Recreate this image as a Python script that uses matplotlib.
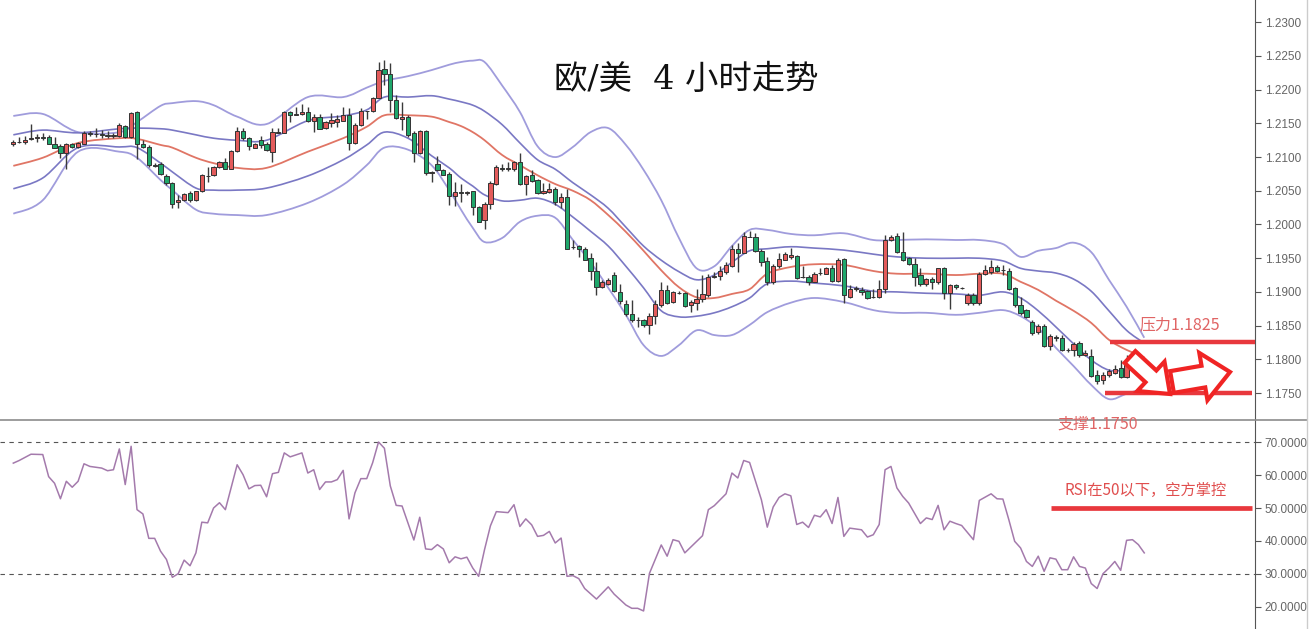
import numpy as np
import matplotlib.pyplot as plt
from matplotlib.patches import FancyArrow, PathPatch
from matplotlib.path import Path

plt.rcParams['font.family'] = ['Noto Sans CJK SC', 'DejaVu Sans']

# EUR/USD 4h candles, oldest first
opens = [1.2120, 1.2123, 1.2122, 1.2127, 1.2129, 1.2130, 1.2130, 1.2120, 1.2116, 1.2106,
         1.2119, 1.2115, 1.2120, 1.2135, 1.2134, 1.2134, 1.2133, 1.2132, 1.2132, 1.2146,
         1.2130, 1.2167, 1.2119, 1.2115, 1.2088, 1.2090, 1.2072, 1.2062, 1.2034, 1.2036,
         1.2046, 1.2036, 1.2049, 1.2072, 1.2073, 1.2085, 1.2092, 1.2083, 1.2109, 1.2139,
         1.2128, 1.2114, 1.2125, 1.2120, 1.2108, 1.2136, 1.2136, 1.2167, 1.2163, 1.2164,
         1.2167, 1.2153, 1.2159, 1.2143, 1.2151, 1.2152, 1.2154, 1.2163, 1.2121, 1.2147,
         1.2168, 1.2168, 1.2188, 1.2230, 1.2223, 1.2184, 1.2157, 1.2159, 1.2135, 1.2106,
         1.2138, 1.2077, 1.2090, 1.2081, 1.2075, 1.2043, 1.2048, 1.2047, 1.2049, 1.2026,
         1.2006, 1.2031, 1.2060, 1.2084, 1.2083, 1.2082, 1.2093, 1.2060, 1.2073, 1.2066,
         1.2046, 1.2048, 1.2052, 1.2034, 1.2041, 1.1966, 1.1968, 1.1964, 1.1951, 1.1931,
         1.1907, 1.1911, 1.1925, 1.1900, 1.1882, 1.1867, 1.1858, 1.1858, 1.1851, 1.1864,
         1.1880, 1.1903, 1.1885, 1.1899, 1.1898, 1.1880, 1.1883, 1.1889, 1.1895, 1.1922,
         1.1923, 1.1930, 1.1938, 1.1964, 1.1958, 1.1982, 1.1981, 1.1961, 1.1946, 1.1915,
         1.1938, 1.1948, 1.1952, 1.1954, 1.1922, 1.1922, 1.1915, 1.1928, 1.1927, 1.1936,
         1.1916, 1.1949, 1.1893, 1.1905, 1.1903, 1.1901, 1.1892, 1.1893, 1.1904, 1.1977,
         1.1983, 1.1959, 1.1950, 1.1941, 1.1925, 1.1911, 1.1919, 1.1914, 1.1936, 1.1899,
         1.1910, 1.1906, 1.1883, 1.1895, 1.1883, 1.1927, 1.1930, 1.1937, 1.1932, 1.1931,
         1.1906, 1.1880, 1.1873, 1.1855, 1.1840, 1.1850, 1.1820, 1.1833, 1.1831, 1.1814,
         1.1814, 1.1824, 1.1806, 1.1805, 1.1777, 1.1769, 1.1777, 1.1780, 1.1787, 1.1774,
         1.1797, 1.1797, 1.1786]
highs = [1.2126, 1.2130, 1.2131, 1.2149, 1.2134, 1.2135, 1.2133, 1.2130, 1.2120, 1.2121,
         1.2121, 1.2123, 1.2138, 1.2138, 1.2143, 1.2140, 1.2138, 1.2135, 1.2150, 1.2148,
         1.2167, 1.2169, 1.2125, 1.2118, 1.2091, 1.2093, 1.2075, 1.2063, 1.2044, 1.2046,
         1.2049, 1.2050, 1.2075, 1.2086, 1.2087, 1.2094, 1.2098, 1.2110, 1.2145, 1.2143,
         1.2130, 1.2121, 1.2131, 1.2123, 1.2143, 1.2143, 1.2168, 1.2169, 1.2174, 1.2179,
         1.2174, 1.2164, 1.2164, 1.2153, 1.2166, 1.2162, 1.2174, 1.2173, 1.2150, 1.2173,
         1.2169, 1.2189, 1.2241, 1.2244, 1.2239, 1.2192, 1.2182, 1.2162, 1.2138, 1.2140,
         1.2140, 1.2080, 1.2102, 1.2083, 1.2078, 1.2063, 1.2060, 1.2050, 1.2050, 1.2028,
         1.2033, 1.2064, 1.2088, 1.2090, 1.2093, 1.2094, 1.2106, 1.2074, 1.2081, 1.2068,
         1.2062, 1.2061, 1.2056, 1.2046, 1.2053, 1.1977, 1.1969, 1.1967, 1.1957, 1.1945,
         1.1917, 1.1921, 1.1930, 1.1912, 1.1888, 1.1888, 1.1863, 1.1860, 1.1868, 1.1888,
         1.1915, 1.1910, 1.1902, 1.1902, 1.1900, 1.1888, 1.1905, 1.1925, 1.1927, 1.1930,
         1.1938, 1.1945, 1.1969, 1.1972, 1.1989, 1.1991, 1.1987, 1.1964, 1.1952, 1.1942,
         1.1957, 1.1959, 1.1965, 1.1955, 1.1939, 1.1925, 1.1930, 1.1935, 1.1937, 1.1940,
         1.1951, 1.1950, 1.1910, 1.1909, 1.1907, 1.1903, 1.1904, 1.1917, 1.1984, 1.1985,
         1.1987, 1.1989, 1.1952, 1.1950, 1.1936, 1.1921, 1.1922, 1.1936, 1.1937, 1.1912,
         1.1912, 1.1908, 1.1898, 1.1898, 1.1930, 1.1940, 1.1947, 1.1940, 1.1940, 1.1935,
         1.1907, 1.1893, 1.1875, 1.1858, 1.1853, 1.1852, 1.1838, 1.1836, 1.1836, 1.1817,
         1.1826, 1.1827, 1.1814, 1.1815, 1.1784, 1.1781, 1.1786, 1.1791, 1.1799, 1.1806,
         1.1801, 1.1800, 1.1789]
lows = [1.2116, 1.2121, 1.2120, 1.2126, 1.2123, 1.2125, 1.2119, 1.2113, 1.2098, 1.2082,
        1.2114, 1.2114, 1.2119, 1.2131, 1.2130, 1.2129, 1.2128, 1.2129, 1.2130, 1.2129,
        1.2129, 1.2097, 1.2113, 1.2086, 1.2085, 1.2073, 1.2058, 1.2025, 1.2025, 1.2035,
        1.2034, 1.2035, 1.2048, 1.2063, 1.2072, 1.2084, 1.2082, 1.2082, 1.2108, 1.2126,
        1.2110, 1.2113, 1.2114, 1.2109, 1.2092, 1.2135, 1.2135, 1.2152, 1.2162, 1.2162,
        1.2152, 1.2137, 1.2141, 1.2142, 1.2145, 1.2145, 1.2153, 1.2110, 1.2120, 1.2146,
        1.2157, 1.2167, 1.2187, 1.2207, 1.2167, 1.2157, 1.2140, 1.2130, 1.2093, 1.2105,
        1.2073, 1.2063, 1.2080, 1.2073, 1.2029, 1.2028, 1.2033, 1.2044, 1.2014, 1.2003,
        1.1994, 1.2023, 1.2059, 1.2080, 1.2080, 1.2080, 1.2058, 1.2044, 1.2063, 1.2045,
        1.2045, 1.2046, 1.2029, 1.2024, 1.1963, 1.1963, 1.1952, 1.1947, 1.1917, 1.1895,
        1.1906, 1.1910, 1.1900, 1.1882, 1.1865, 1.1855, 1.1848, 1.1848, 1.1837, 1.1853,
        1.1878, 1.1882, 1.1884, 1.1897, 1.1878, 1.1870, 1.1873, 1.1885, 1.1893, 1.1921,
        1.1917, 1.1927, 1.1937, 1.1930, 1.1957, 1.1981, 1.1959, 1.1938, 1.1910, 1.1912,
        1.1935, 1.1947, 1.1949, 1.1919, 1.1920, 1.1910, 1.1914, 1.1925, 1.1926, 1.1915,
        1.1915, 1.1883, 1.1891, 1.1901, 1.1895, 1.1889, 1.1891, 1.1891, 1.1898, 1.1975,
        1.1957, 1.1946, 1.1940, 1.1909, 1.1909, 1.1909, 1.1904, 1.1912, 1.1890, 1.1875,
        1.1905, 1.1905, 1.1880, 1.1880, 1.1881, 1.1925, 1.1927, 1.1929, 1.1925, 1.1903,
        1.1878, 1.1866, 1.1862, 1.1836, 1.1838, 1.1819, 1.1814, 1.1827, 1.1812, 1.1811,
        1.1805, 1.1804, 1.1805, 1.1774, 1.1764, 1.1764, 1.1774, 1.1778, 1.1773, 1.1773,
        1.1794, 1.1791, 1.1780]
closes = [1.2123, 1.2122, 1.2125, 1.2129, 1.2130, 1.2129, 1.2120, 1.2114, 1.2106, 1.2119,
          1.2115, 1.2121, 1.2135, 1.2134, 1.2134, 1.2133, 1.2132, 1.2132, 1.2148, 1.2130,
          1.2166, 1.2120, 1.2115, 1.2088, 1.2087, 1.2075, 1.2061, 1.2031, 1.2036, 1.2045,
          1.2036, 1.2049, 1.2073, 1.2072, 1.2086, 1.2093, 1.2083, 1.2109, 1.2138, 1.2129,
          1.2116, 1.2119, 1.2118, 1.2110, 1.2137, 1.2137, 1.2167, 1.2163, 1.2164, 1.2167,
          1.2153, 1.2159, 1.2142, 1.2152, 1.2155, 1.2156, 1.2163, 1.2121, 1.2147, 1.2169,
          1.2169, 1.2188, 1.2229, 1.2223, 1.2184, 1.2158, 1.2160, 1.2133, 1.2106, 1.2138,
          1.2077, 1.2078, 1.2081, 1.2074, 1.2043, 1.2048, 1.2046, 1.2048, 1.2026, 1.2004,
          1.2031, 1.2062, 1.2085, 1.2083, 1.2083, 1.2093, 1.2060, 1.2072, 1.2065, 1.2046,
          1.2050, 1.2052, 1.2034, 1.2041, 1.1964, 1.1967, 1.1963, 1.1948, 1.1931, 1.1907,
          1.1915, 1.1918, 1.1901, 1.1887, 1.1867, 1.1858, 1.1858, 1.1851, 1.1864, 1.1882,
          1.1903, 1.1884, 1.1900, 1.1898, 1.1879, 1.1885, 1.1890, 1.1897, 1.1922, 1.1923,
          1.1931, 1.1940, 1.1964, 1.1958, 1.1983, 1.1981, 1.1961, 1.1945, 1.1915, 1.1938,
          1.1949, 1.1956, 1.1955, 1.1920, 1.1922, 1.1914, 1.1927, 1.1928, 1.1935, 1.1916,
          1.1947, 1.1895, 1.1905, 1.1905, 1.1900, 1.1891, 1.1893, 1.1905, 1.1977, 1.1982,
          1.1959, 1.1947, 1.1941, 1.1922, 1.1911, 1.1919, 1.1915, 1.1935, 1.1898, 1.1910,
          1.1907, 1.1906, 1.1895, 1.1884, 1.1927, 1.1932, 1.1937, 1.1931, 1.1932, 1.1905,
          1.1880, 1.1869, 1.1863, 1.1839, 1.1849, 1.1820, 1.1834, 1.1832, 1.1814, 1.1814,
          1.1822, 1.1806, 1.1809, 1.1776, 1.1768, 1.1777, 1.1782, 1.1786, 1.1774, 1.1797,
          1.1797, 1.1792, 1.1781]

# band readings at these candles
band_idx = [0, 5, 11, 18, 21, 25, 27, 31, 34, 38, 43, 50, 56, 60, 63, 67, 71, 74, 76, 78,
            80, 83, 86, 89, 92, 95, 98, 101, 104, 107, 110, 113, 116, 119, 122, 125, 128, 132, 136, 141,
            146, 150, 155, 160, 164, 168, 171, 174, 177, 180, 183, 186, 189, 192]
upper_outer = [1.2161, 1.2164, 1.2137, 1.2137, 1.2152, 1.2176, 1.2180, 1.2183, 1.2177, 1.2160,
               1.2149, 1.2189, 1.2189, 1.2203, 1.2213, 1.2220, 1.2229, 1.2237, 1.2241, 1.2243,
               1.2241, 1.2206, 1.2167, 1.2116, 1.2100, 1.2115, 1.2137, 1.2143, 1.2118, 1.2081,
               1.2036, 1.1980, 1.1935, 1.1938, 1.1968, 1.1992, 1.1992, 1.1986, 1.1984, 1.1987,
               1.1977, 1.1977, 1.1978, 1.1977, 1.1977, 1.1971, 1.1952, 1.1961, 1.1965, 1.1973,
               1.1959, 1.1918, 1.1878, 1.1832]
upper_inner = [1.2133, 1.2140, 1.2136, 1.2142, 1.2143, 1.2142, 1.2140, 1.2133, 1.2128, 1.2125,
               1.2125, 1.2154, 1.2161, 1.2170, 1.2189, 1.2189, 1.2191, 1.2186, 1.2182, 1.2177,
               1.2168, 1.2148, 1.2121, 1.2096, 1.2082, 1.2062, 1.2044, 1.2024, 1.1996, 1.1968,
               1.1947, 1.1930, 1.1918, 1.1925, 1.1944, 1.1961, 1.1964, 1.1967, 1.1965, 1.1962,
               1.1956, 1.1952, 1.1950, 1.1950, 1.1950, 1.1946, 1.1935, 1.1931, 1.1928, 1.1919,
               1.1901, 1.1872, 1.1843, 1.1824]
middle = [1.2087, 1.2099, 1.2121, 1.2128, 1.2127, 1.2118, 1.2114, 1.2099, 1.2091, 1.2084,
          1.2084, 1.2108, 1.2128, 1.2145, 1.2162, 1.2162, 1.2160, 1.2152, 1.2146, 1.2137,
          1.2125, 1.2103, 1.2088, 1.2073, 1.2060, 1.2050, 1.2036, 1.2014, 1.1989, 1.1961,
          1.1932, 1.1907, 1.1892, 1.1891, 1.1897, 1.1904, 1.1927, 1.1937, 1.1941, 1.1940,
          1.1931, 1.1927, 1.1927, 1.1925, 1.1927, 1.1927, 1.1915, 1.1903, 1.1887, 1.1872,
          1.1854, 1.1829, 1.1814, 1.1803]
lower_inner = [1.2053, 1.2069, 1.2114, 1.2115, 1.2114, 1.2091, 1.2078, 1.2054, 1.2051, 1.2051,
               1.2054, 1.2072, 1.2096, 1.2118, 1.2137, 1.2128, 1.2102, 1.2084, 1.2069, 1.2057,
               1.2044, 1.2035, 1.2036, 1.2039, 1.2030, 1.2011, 1.1990, 1.1968, 1.1938, 1.1906,
               1.1872, 1.1863, 1.1864, 1.1869, 1.1878, 1.1891, 1.1912, 1.1916, 1.1913, 1.1909,
               1.1901, 1.1900, 1.1898, 1.1897, 1.1895, 1.1900, 1.1891, 1.1872, 1.1848, 1.1823,
               1.1799, 1.1784, 1.1784, 1.1787]
lower_outer = [1.2016, 1.2036, 1.2108, 1.2108, 1.2099, 1.2066, 1.2051, 1.2022, 1.2016, 1.2014,
               1.2014, 1.2032, 1.2059, 1.2088, 1.2114, 1.2111, 1.2088, 1.2051, 1.2022, 1.1995,
               1.1974, 1.1980, 1.2004, 1.2013, 1.2010, 1.1977, 1.1944, 1.1906, 1.1866, 1.1821,
               1.1805, 1.1821, 1.1843, 1.1836, 1.1836, 1.1851, 1.1870, 1.1884, 1.1891, 1.1885,
               1.1873, 1.1869, 1.1869, 1.1866, 1.1869, 1.1873, 1.1864, 1.1846, 1.1817, 1.1790,
               1.1762, 1.1741, 1.1749, 1.1757]

rsi_idx = [0, 1, 3, 5, 6, 7, 8, 9, 10, 11,
           12, 13, 15, 16, 17, 18, 19, 20, 21, 22,
           23, 24, 25, 26, 27, 28, 29, 30, 31, 32,
           33, 34, 35, 36, 38, 39, 40, 41, 42, 43,
           44, 45, 46, 47, 49, 50, 51, 52, 53, 54,
           55, 56, 57, 58, 59, 60, 61, 62, 63, 64,
           65, 66, 67, 68, 69, 70, 71, 72, 73, 74,
           75, 76, 77, 78, 79, 80, 81, 82, 84, 85,
           86, 87, 88, 89, 90, 91, 92, 93, 94, 95,
           96, 97, 99, 101, 102, 104, 105, 106, 107, 108,
           110, 111, 112, 113, 114, 117, 118, 119, 121, 122,
           123, 124, 125, 127, 128, 129, 130, 131, 132, 133,
           134, 135, 136, 137, 138, 139, 140, 141, 142, 144,
           145, 146, 147, 148, 149, 150, 151, 152, 154, 155,
           156, 157, 158, 159, 160, 161, 163, 164, 166, 167,
           168, 169, 170, 171, 172, 173, 174, 175, 176, 177,
           178, 179, 180, 181, 182, 183, 184, 185, 186, 187,
           188, 189, 190, 191, 192]
rsi_val = [63.6, 64.4, 66.3, 66.2, 59.5, 57.5, 52.8, 58.1, 56.3, 58.1,
           63.4, 62.6, 62.1, 61.3, 61.6, 67.9, 57.1, 68.7, 49.5, 48.2,
           40.8, 40.8, 36.9, 34.4, 29.0, 30.1, 34.2, 32.5, 36.4, 45.7,
           45.5, 50.0, 51.6, 49.5, 63.1, 60.1, 55.8, 56.8, 56.9, 53.4,
           60.4, 60.8, 66.7, 65.5, 66.7, 60.6, 61.6, 55.6, 57.9, 57.9,
           58.6, 61.4, 46.7, 54.6, 58.9, 58.9, 63.7, 70.0, 68.1, 56.7,
           50.8, 50.6, 45.5, 40.3, 47.2, 37.6, 37.4, 38.9, 37.6, 33.4,
           35.2, 34.6, 35.1, 31.8, 29.3, 37.4, 44.6, 48.9, 48.6, 51.0,
           44.4, 46.7, 44.9, 41.4, 41.7, 42.9, 39.4, 40.9, 29.3, 29.5,
           28.6, 25.6, 22.4, 26.1, 23.9, 20.6, 19.6, 19.6, 18.8, 30.2,
           38.8, 35.4, 40.4, 39.9, 36.4, 41.6, 49.5, 50.7, 54.3, 60.6,
           59.1, 64.4, 63.8, 52.5, 44.2, 50.3, 53.2, 54.3, 53.7, 45.0,
           45.7, 44.1, 47.8, 47.3, 49.5, 45.3, 53.2, 41.4, 43.9, 43.4,
           41.2, 41.9, 45.0, 61.6, 62.6, 56.1, 53.5, 51.5, 45.3, 47.0,
           46.5, 50.8, 43.4, 46.0, 45.3, 44.7, 40.4, 52.3, 54.3, 52.8,
           52.7, 46.5, 39.9, 37.9, 33.8, 32.3, 35.4, 30.8, 34.9, 34.5,
           31.3, 31.3, 35.2, 32.3, 31.8, 27.1, 25.6, 30.1, 31.8, 33.8,
           31.1, 40.2, 40.4, 38.9, 36.4]

price_ticks = [1.1750, 1.1800, 1.1850, 1.1900, 1.1950, 1.2000, 1.2050,
               1.2100, 1.2150, 1.2200, 1.2250, 1.2300]
rsi_ticks = [20, 30, 40, 50, 60, 70]
resistance = 1.1825
support = 1.1750
rsi_mid = 50


def smooth_path(xs, ys):
    # draw the band through its readings as a smooth Catmull-Rom curve (bezier segments)
    p = np.column_stack([xs, ys]).astype(float)
    ext = np.vstack([p[0], p, p[-1]])
    verts, codes = [p[0]], [Path.MOVETO]
    for k in range(len(p) - 1):
        p0, p1, p2, p3 = ext[k], ext[k + 1], ext[k + 2], ext[k + 3]
        verts += [p1 + (p2 - p0) / 6, p2 - (p3 - p1) / 6, p2]
        codes += [Path.CURVE4] * 3
    return Path(verts, codes)


W, H = 1315, 629
fig = plt.figure(figsize=(W / 100, H / 100), dpi=100)
fig.patch.set_facecolor('white')
ax = fig.add_axes([0, 209 / H, 1255 / W, 420 / H])
ax2 = fig.add_axes([0, 0, 1255 / W, 209 / H])
xlim = (-2.26, 210.8)

# candles
o, hi, lo, c = (np.array(a) for a in (opens, highs, lows, closes))
idx = np.arange(len(c))
up = c >= o
body_col = np.where(up, '#e35b5b', '#1fa76b')
ax.vlines(idx, lo, hi, color='#3a3a3a', lw=1, zorder=3)
ax.bar(idx, np.maximum(np.abs(c - o), 0.00004), bottom=np.minimum(o, c), width=0.72,
       color=body_col, edgecolor='#333333', linewidth=0.7, zorder=4)

# bollinger style bands
for vals, col, lw in [(upper_outer, '#a09cdc', 1.3), (upper_inner, '#7a78c4', 1.2),
                      (middle, '#e07565', 1.3), (lower_inner, '#7a78c4', 1.2),
                      (lower_outer, '#a09cdc', 1.3)]:
    ax.add_patch(PathPatch(smooth_path(band_idx, vals), fill=False, edgecolor=col,
                           lw=lw, zorder=2))

ax.plot([186.2, xlim[1]], [resistance, resistance], color='#e8383d', lw=3.2,
        solid_capstyle='butt', zorder=5, clip_on=False)
ax.plot([185.3, 210.3], [support, support], color='#e8383d', lw=3.2,
        solid_capstyle='butt', zorder=5)

ax.set_xlim(*xlim)
ax.set_ylim(1.1710, 1.2333)
ax.yaxis.tick_right()
ax.set_yticks(price_ticks)
ax.set_yticklabels([f'{v:.4f}' for v in price_ticks])

# RSI panel
ax2.plot(rsi_idx, rsi_val, color='#a47aac', lw=1.1, zorder=3)
for lvl in (70, 30):
    ax2.axhline(lvl, color='#555555', lw=0.8, ls=(0, (4, 4)), zorder=1)
ax2.plot([176.2, 210.3], [rsi_mid, rsi_mid], color='#e8383d', lw=3.4,
         solid_capstyle='butt', zorder=4)
ax2.set_xlim(*xlim)
ax2.set_ylim(13.33, 76.67)
ax2.yaxis.tick_right()
ax2.set_yticks(rsi_ticks)
ax2.set_yticklabels([f'{v:.4f}' for v in rsi_ticks])

for a in (ax, ax2):
    a.set_xticks([])
    a.set_facecolor('none')
    for s in ('top', 'left', 'bottom'):
        a.spines[s].set_visible(False)
    a.spines['right'].set_color('#555555')
    a.tick_params(axis='y', direction='out', length=4, color='#555555',
                  labelcolor='#666666', labelsize=8.5, pad=3)
    for t in a.get_yticklabels():
        t.set_family('Liberation Sans')

# overlay in pixel units for frame, notes and arrows
ov = fig.add_axes([0, 0, 1, 1], zorder=5)
ov.set_xlim(0, W)
ov.set_ylim(H, 0)
ov.axis('off')
ov.patch.set_alpha(0)
ov.plot([0, 1307], [420, 420], color='#8c8c8c', lw=1.2)
ov.plot([1307, 1307], [0, H], color='#cccccc', lw=1)

# serif for the slash and digit, CJK glyphs fall through to Noto Sans CJK
ov.text(686, 80, '欧/美  4 小时走势', ha='center', va='center', fontsize=24, color='#111111',
        family=['DejaVu Serif', 'Noto Sans CJK SC'])
ov.text(1180, 325, '压力1.1825', ha='center', va='center', fontsize=11.5, color='#e06464')
ov.text(1098, 424, '支撑1.1750', ha='center', va='center', fontsize=11.5, color='#e06464')
ov.text(1146, 490, 'RSI在50以下，空方掌控', ha='center', va='center', fontsize=11, color='#e04e4e')

for x0, y0, dx, dy, w, hw, hl in [(1130, 357, 40, 37, 16, 40, 26),
                                  (1172, 382, 58, -10, 22, 48, 27)]:
    ov.add_patch(FancyArrow(x0, y0, dx, dy, width=w, head_width=hw, head_length=hl,
                            length_includes_head=True, facecolor='white',
                            edgecolor='#f02424', lw=3, zorder=6))

fig.savefig('out.png', dpi=100)
